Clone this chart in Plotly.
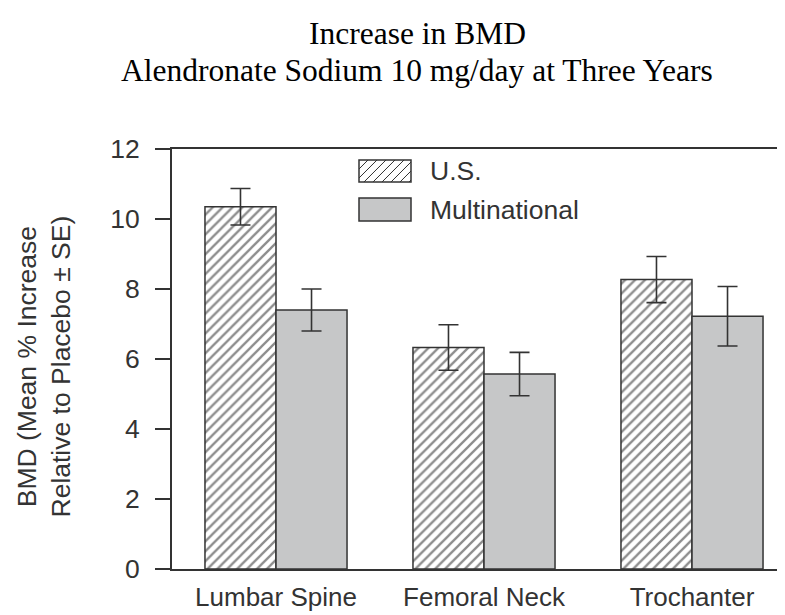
import plotly.graph_objects as go

# ---- data ----
categories = ["Lumbar Spine", "Femoral Neck", "Trochanter"]
series_names = ["U.S.", "Multinational"]
us_values = [10.35, 6.33, 8.27]
us_se = [0.52, 0.65, 0.66]
multi_values = [7.4, 5.57, 7.22]
multi_se = [0.6, 0.62, 0.85]
y_ticks = [0, 2, 4, 6, 8, 10, 12]

# ---- layout geometry (screen pixels; page has an 8px body margin) ----
OFF = 8
W, H = 785 - OFF, 615 - OFF
ML, MR, MT, MB = 172 - OFF, 0, 149 - OFF, 46
PW = W - ML - MR
PH = H - MT - MB

def px_to_paper(px, py):
    px -= OFF
    py -= OFF
    return (px - ML) / PW, (H - MB - py) / PH

DARK = "#333333"
SANS = "Liberation Sans, Arial, sans-serif"
SERIF = "Liberation Serif, Times New Roman, serif"
FS = 26.5

fig = go.Figure()
fig.add_trace(go.Bar(
    x=categories, y=us_values, name=series_names[0],
    marker=dict(color="white", line=dict(color=DARK, width=1.5),
                pattern=dict(shape="/", size=7, solidity=0.33,
                             fgcolor="#1a1a1a", bgcolor="white")),
    error_y=dict(type="data", array=us_se, visible=True,
                 color=DARK, thickness=1.6, width=10),
    showlegend=False,
))
fig.add_trace(go.Bar(
    x=categories, y=multi_values, name=series_names[1],
    marker=dict(color="#c6c7c8", line=dict(color=DARK, width=1.5)),
    error_y=dict(type="data", array=multi_se, visible=True,
                 color=DARK, thickness=1.6, width=10),
    showlegend=False,
))

# ---- manual legend (large swatches as in the original) ----
shapes = []
annotations = []
sw_x0, sw_x1 = 359, 411
swatches = [(160, 182), (198, 221)]

def hatch_path(x0, y0, x1, y1, step):
    segs = []
    c = x0 + y0 + step
    while c < x1 + y1:
        pa = max(x0, c - y1)
        pb = min(x1, c - y0)
        if pb > pa:
            ax, ay = px_to_paper(pa, c - pa)
            bx, by = px_to_paper(pb, c - pb)
            segs.append(f"M{ax:.5f},{ay:.5f}L{bx:.5f},{by:.5f}")
        c += step
    return "".join(segs)

for i, (y0, y1) in enumerate(swatches):
    ax0, ay1 = px_to_paper(sw_x0, y0)
    ax1, ay0 = px_to_paper(sw_x1, y1)
    fill = "white" if i == 0 else "#c6c7c8"
    shapes.append(dict(type="rect", xref="paper", yref="paper",
                       x0=ax0, x1=ax1, y0=ay0, y1=ay1,
                       fillcolor=fill, line=dict(color=DARK, width=1.5), layer="above"))
    if i == 0:
        shapes.append(dict(type="path", xref="paper", yref="paper",
                           path=hatch_path(sw_x0, y0, sw_x1, y1, 9),
                           line=dict(color=DARK, width=1), layer="above"))
    tx, ty = px_to_paper(428, (y0 + y1) / 2)
    annotations.append(dict(xref="paper", yref="paper", x=tx, y=ty,
                            xanchor="left", yanchor="middle", showarrow=False,
                            text=series_names[i],
                            font=dict(family=SANS, size=FS, color=DARK)))

# ---- title (two lines, serif) ----
tx, t1 = px_to_paper(417, 33)
_, t2 = px_to_paper(417, 70)
annotations.append(dict(xref="paper", yref="paper", x=tx, y=t1, xanchor="center",
                        yanchor="middle", showarrow=False, text="Increase in BMD",
                        font=dict(family=SERIF, size=31.5, color="black")))
annotations.append(dict(xref="paper", yref="paper", x=tx, y=t2, xanchor="center",
                        yanchor="middle", showarrow=False,
                        text="Alendronate Sodium 10 mg/day at Three Years",
                        font=dict(family=SERIF, size=31.5, color="black")))

# ---- y axis title ----
yx, yy = px_to_paper(43.5, 367)
annotations.append(dict(xref="paper", yref="paper", x=yx, y=yy, xanchor="center",
                        yanchor="middle", showarrow=False, textangle=-90,
                        text="BMD (Mean % Increase<br>Relative to Placebo ± SE)",
                        font=dict(family=SANS, size=FS, color=DARK)))

fig.update_layout(
    width=W, height=H,
    margin=dict(l=ML, r=MR, t=MT, b=MB, pad=0),
    paper_bgcolor="white", plot_bgcolor="white",
    barmode="group", bargap=0.317, bargroupgap=0,
    shapes=shapes, annotations=annotations,
    showlegend=False,
)
fig.update_xaxes(
    range=[-0.5, -0.5 + PW / 208.0],
    showline=True, linecolor=DARK, linewidth=1.8, mirror=True,
    showgrid=False, zeroline=False, ticks="",
    tickfont=dict(family=SANS, size=26, color=DARK),
    ticklabelstandoff=4, automargin=False,
)
fig.update_yaxes(
    range=[0, 12], tickvals=y_ticks,
    showline=True, linecolor=DARK, linewidth=1.8,
    showgrid=False, zeroline=False,
    ticks="outside", ticklen=15, tickwidth=1.8, tickcolor=DARK,
    tickfont=dict(family=SANS, size=FS, color=DARK),
    ticklabelstandoff=10, automargin=False,
)

fig.write_html("out.html")
